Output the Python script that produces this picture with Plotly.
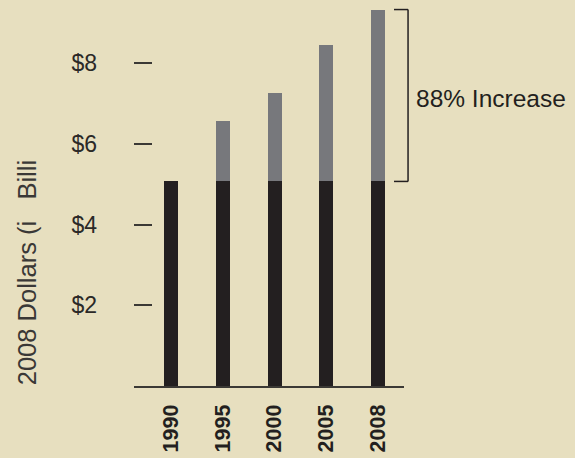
import plotly.graph_objects as go

years = ["1990", "1995", "2000", "2005", "2008"]
base_1990 = [5.07, 5.07, 5.07, 5.07, 5.07]
totals = [5.07, 6.58, 7.25, 8.44, 9.33]
increase = [t - b for t, b in zip(totals, base_1990)]
y_tick_vals = [2, 4, 6, 8]
y_tick_text = ["$2", "$4", "$6", "$8"]
y_title = "2008 Dollars (i\u00a0\u00a0\u00a0Billi"
bracket_label = "88% Increase"

BG = "#E7DFBF"
DARK = "#231F20"
GRAY = "#77787C"

fig = go.Figure()
fig.add_trace(go.Bar(x=years, y=base_1990, marker=dict(color=DARK, line_width=0), width=0.27))
fig.add_trace(go.Bar(x=years, y=increase, marker=dict(color=GRAY, line_width=0), width=0.27))

top = max(totals)
low = base_1990[-1]
bx = 1.015
bx_in = 0.963
line = dict(color=DARK, width=1.5)
fig.add_shape(type="line", xref="paper", yref="y", x0=bx, x1=bx, y0=low, y1=top, line=line)
fig.add_shape(type="line", xref="paper", yref="y", x0=bx_in, x1=bx, y0=top, y1=top, line=line)
fig.add_shape(type="line", xref="paper", yref="y", x0=bx_in, x1=bx, y0=low, y1=low, line=line)
fig.add_annotation(xref="paper", yref="y", x=1.036, y=(top + low) / 2 - 0.08, text=bracket_label,
                   showarrow=False, xanchor="left", yanchor="middle",
                   font=dict(family="Liberation Sans, Arial", size=24.5, color=DARK))
fig.add_annotation(xref="paper", yref="paper", x=-0.398, y=0.295, text=y_title, textangle=-90,
                   showarrow=False, xanchor="center", yanchor="middle",
                   font=dict(family="Liberation Sans, Arial", size=25.5, color="#3a3836"))

fig.update_layout(
    width=575, height=458,
    margin=dict(l=134, r=171, t=2, b=72),
    paper_bgcolor=BG, plot_bgcolor=BG,
    barmode="stack", showlegend=False,
    xaxis=dict(range=[-0.715, 4.502], showline=True, linecolor="#3b3935", linewidth=2,
               showgrid=False, zeroline=False, ticks="", tickangle=-90, automargin=False,
               ticklabelstandoff=8,
               tickfont=dict(family="Liberation Sans, Arial", size=21.5, color=DARK,
                             weight="bold")),
    yaxis=dict(range=[0, 9.517], showline=False, showgrid=False, zeroline=False, automargin=False,
               tickvals=y_tick_vals, ticktext=y_tick_text, ticks="inside", ticklen=18,
               tickwidth=1.5, tickcolor="#3b3935", ticklabelstandoff=36,
               tickfont=dict(family="Liberation Sans, Arial", size=23, color="#2b2927")),
)

fig.write_html("out.html", config={"displayModeBar": False})
with open("out.html", "r", encoding="utf-8") as f:
    html = f.read()
html = html.replace("<head>", "<head><style>html,body{margin:0;padding:0;overflow:hidden;}</style>", 1)
with open("out.html", "w", encoding="utf-8") as f:
    f.write(html)
